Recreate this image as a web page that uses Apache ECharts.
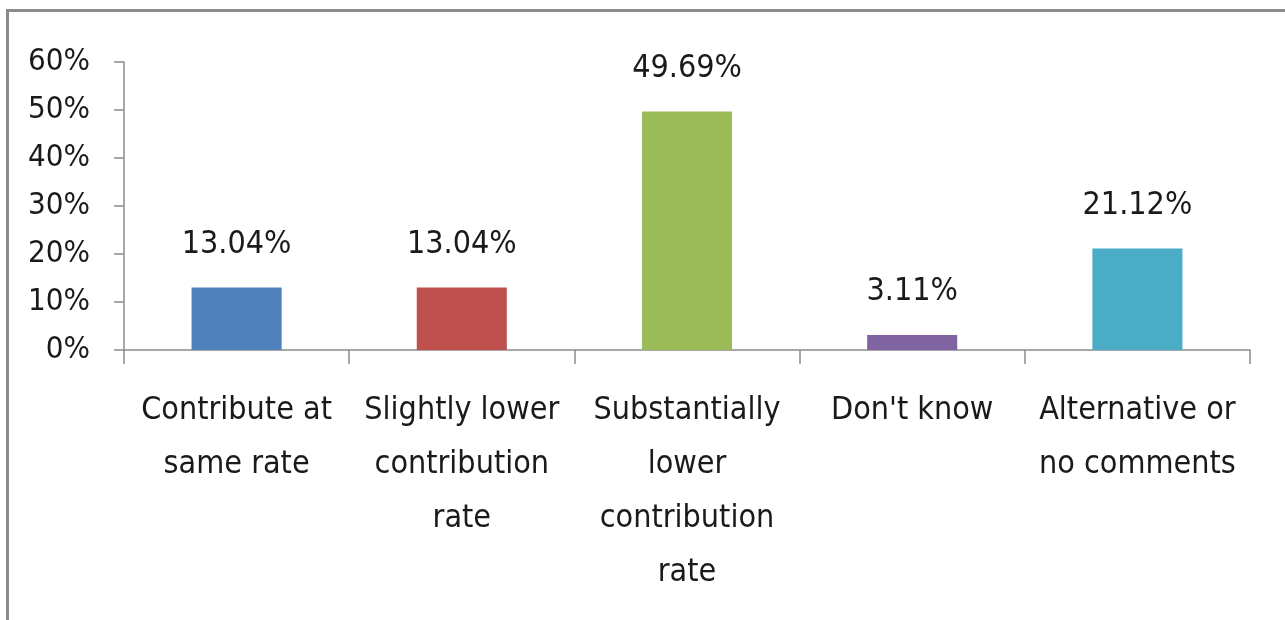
<!DOCTYPE html>
<html>
<head>
<meta charset="utf-8">
<script src="https://cdn.jsdelivr.net/npm/echarts@6/dist/echarts.min.js"></script>
<style>
  html, body { margin: 0; padding: 0; background: #fff; }
  #chart { width: 1285px; height: 620px; }
</style>
</head>
<body>
<div id="chart"></div>
<script>
// categories and values
const categories = [
  'Contribute at\nsame rate',
  'Slightly lower\ncontribution\nrate',
  'Substantially\nlower\ncontribution\nrate',
  "Don't know",
  'Alternative or\nno comments'
];
const shares = [13.04, 13.04, 49.69, 3.11, 21.12];
const barColors = ['#4F81BD', '#C0504D', '#9BBB59', '#8064A2', '#4BACC6'];

const font = '"Liberation Sans Narrow", "DejaVu Sans Condensed", sans-serif';

const chart = echarts.init(document.getElementById('chart'));

const option = {
  animation: false,
  textStyle: { fontFamily: font },
  graphic: [
    {
      // frame, cut off at the right and bottom as in the original
      type: 'rect',
      shape: { x: 7.5, y: 10.5, width: 1400, height: 800 },
      style: { fill: 'none', stroke: '#8c8c8c', lineWidth: 3 }
    }
  ],
  grid: { left: 124, right: 35, top: 62, bottom: 270 },
  xAxis: {
    type: 'category',
    data: categories,
    axisLine: { lineStyle: { color: '#8c8c8c', width: 1.5 } },
    axisTick: { show: true, length: 14, lineStyle: { color: '#8c8c8c', width: 1.5 } },
    axisLabel: {
      color: '#1a1a1a',
      fontSize: 32,
      lineHeight: 54,
      margin: 34,
      interval: 0,
      fontFamily: font
    }
  },
  yAxis: {
    type: 'value',
    min: 0,
    max: 60,
    interval: 10,
    splitLine: { show: false },
    axisLine: { show: true, lineStyle: { color: '#8c8c8c', width: 1.5 } },
    axisTick: { show: true, length: 10, lineStyle: { color: '#8c8c8c', width: 1.5 } },
    axisLabel: {
      color: '#1a1a1a',
      fontSize: 31,
      margin: 34,
      formatter: '{value}%',
      fontFamily: font
    }
  },
  series: [
    {
      type: 'bar',
      barWidth: '40%',
      data: shares.map((v, i) => ({ value: v, itemStyle: { color: barColors[i] } })),
      label: {
        show: true,
        position: 'top',
        distance: 27,
        color: '#1a1a1a',
        fontSize: 32,
        fontFamily: font,
        formatter: p => p.value.toFixed(2) + '%'
      }
    }
  ]
};

chart.setOption(option);
</script>
</body>
</html>
